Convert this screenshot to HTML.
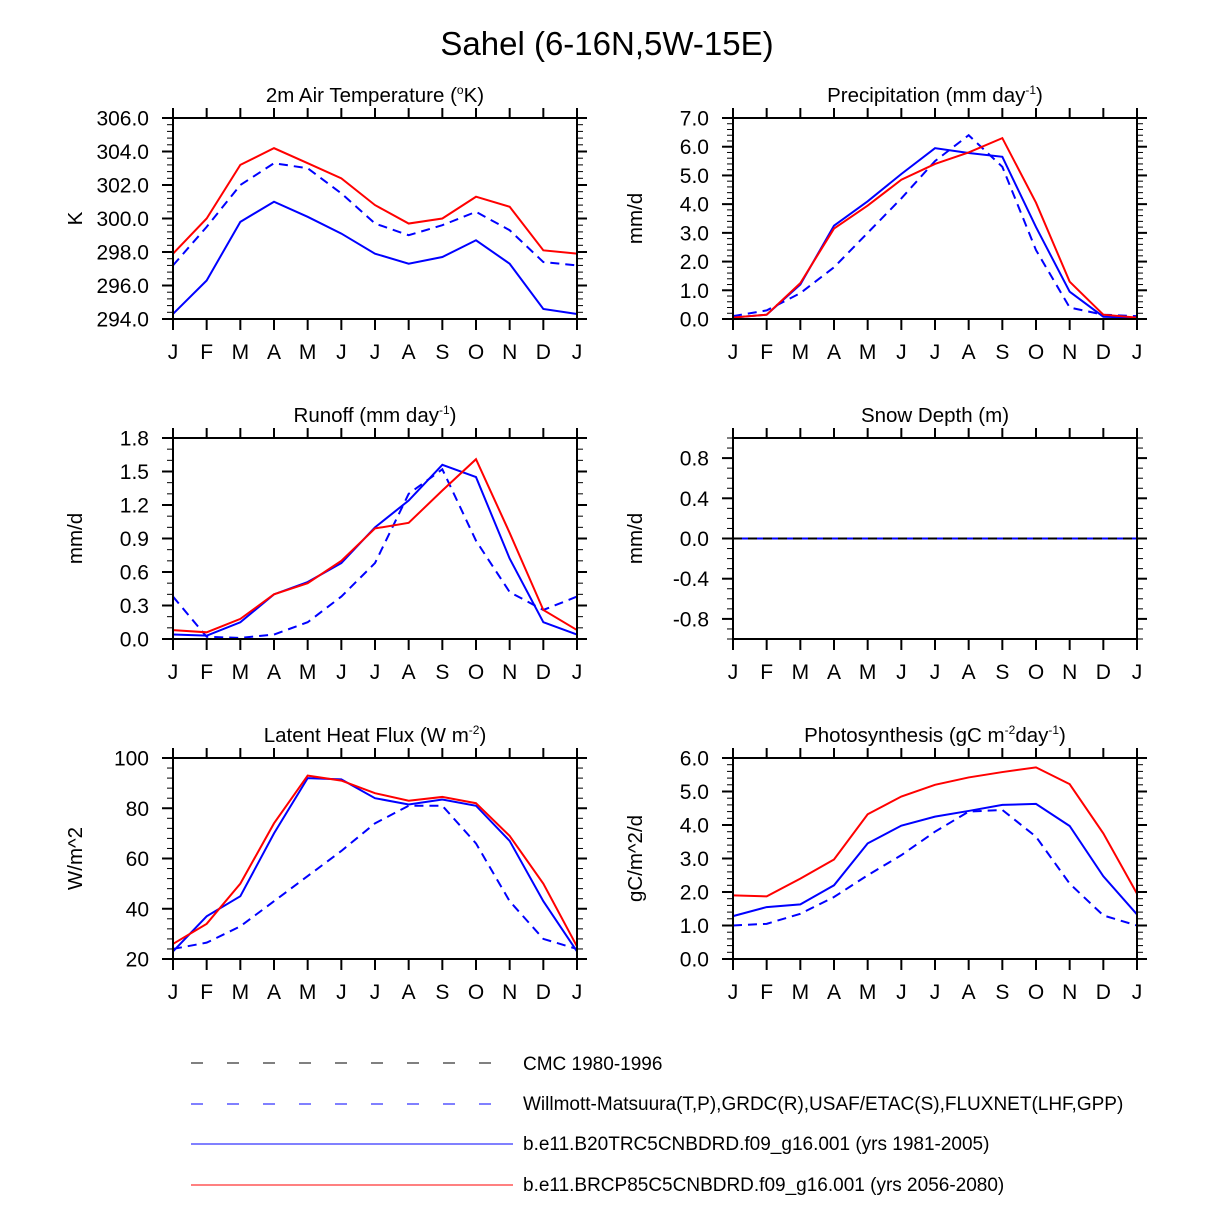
<!DOCTYPE html>
<html><head><meta charset="utf-8"><style>
body{margin:0;background:#fff;}
svg{display:block;font-family:"Liberation Sans",Arial,sans-serif;}
</style></head><body>
<svg id="fig" width="1214" height="1216" viewBox="0 0 1214 1216" xmlns="http://www.w3.org/2000/svg">
<text x="607" y="55" font-size="33" text-anchor="middle">Sahel (6-16N,5W-15E)</text>
<g id="panels"></g>
<g id="legend">
<line x1="191" y1="1063" x2="500" y2="1063" stroke="#000" stroke-width="1" stroke-dasharray="12,24"/>
<text x="523" y="1070" font-size="19">CMC 1980-1996</text>
<line x1="191" y1="1104" x2="500" y2="1104" stroke="#00f" stroke-width="1" stroke-dasharray="12,24"/>
<text x="523" y="1110" font-size="19">Willmott-Matsuura(T,P),GRDC(R),USAF/ETAC(S),FLUXNET(LHF,GPP)</text>
<line x1="191" y1="1144" x2="513" y2="1144" stroke="#00f" stroke-width="1"/>
<text x="523" y="1150" font-size="19">b.e11.B20TRC5CNBDRD.f09_g16.001 (yrs 1981-2005)</text>
<line x1="191" y1="1185" x2="513" y2="1185" stroke="#f00" stroke-width="1"/>
<text x="523" y="1191" font-size="19">b.e11.BRCP85C5CNBDRD.f09_g16.001 (yrs 2056-2080)</text>
</g>
</svg>
<script>
const months = ["J","F","M","A","M","J","J","A","S","O","N","D","J"];
const tempRed  = [297.9,300.0,303.2,304.2,303.3,302.4,300.8,299.7,300.0,301.3,300.7,298.1,297.9];
const tempObs  = [297.2,299.5,302.0,303.3,303.0,301.5,299.7,299.0,299.6,300.4,299.3,297.4,297.2];
const tempBlue = [294.3,296.3,299.8,301.0,300.1,299.1,297.9,297.3,297.7,298.7,297.3,294.6,294.3];
const precRed  = [0.05,0.15,1.25,3.15,3.95,4.85,5.4,5.8,6.3,4.05,1.3,0.15,0.05];
const precObs  = [0.1,0.3,0.9,1.8,3.0,4.2,5.5,6.4,5.3,2.4,0.4,0.15,0.1];
const precBlue = [0.05,0.15,1.2,3.25,4.1,5.05,5.95,5.78,5.65,3.2,0.95,0.08,0.05];
const runRed   = [0.08,0.06,0.18,0.40,0.50,0.70,0.99,1.04,1.33,1.61,0.95,0.26,0.08];
const runObs   = [0.38,0.02,0.01,0.04,0.15,0.38,0.68,1.30,1.52,0.88,0.42,0.26,0.38];
const runBlue  = [0.04,0.03,0.15,0.40,0.51,0.68,1.00,1.24,1.56,1.45,0.72,0.15,0.04];
const snowRed  = [0,0,0,0,0,0,0,0,0,0,0,0,0];
const snowBlue = [0,0,0,0,0,0,0,0,0,0,0,0,0];
const snowObs  = [0,0,0,0,0,0,0,0,0,0,0,0,0];
const snowCmc  = [0,0,0,0,0,0,0,0,0,0,0,0,0];
const lhRed    = [26,34,50,74,93,91,86,83,84.5,82,69,50,25];
const lhObs    = [24,26.5,33,43,53,63,74,81,81,66,43,28,24];
const lhBlue   = [23,37,45,70,92,91.5,84,81.5,83.5,81,67,43,23];
const gppRed   = [1.9,1.87,2.4,2.97,4.32,4.85,5.2,5.42,5.58,5.72,5.22,3.75,1.95];
const gppObs   = [1.0,1.05,1.35,1.85,2.5,3.1,3.8,4.4,4.45,3.65,2.25,1.3,1.0];
const gppBlue  = [1.28,1.55,1.63,2.2,3.45,3.98,4.25,4.42,4.6,4.63,3.97,2.47,1.33];
const tempTicks=["294.0","296.0","298.0","300.0","302.0","304.0","306.0"];
const precTicks=["0.0","1.0","2.0","3.0","4.0","5.0","6.0","7.0"];
const runTicks=["0.0","0.3","0.6","0.9","1.2","1.5","1.8"];
const snowTicks=["-0.8","-0.4","0.0","0.4","0.8"];
const lhTicks=["20","40","60","80","100"];
const gppTicks=["0.0","1.0","2.0","3.0","4.0","5.0","6.0"];

const NS="http://www.w3.org/2000/svg";
const root=document.getElementById('panels');
function el(tag,attrs,parent){const e=document.createElementNS(NS,tag);for(const k in attrs)e.setAttribute(k,attrs[k]);parent.appendChild(e);return e;}

const panels=[
 {name:"air-temperature",x:173,y:118,title:'2m Air Temperature (<tspan font-size="12" dy="-8">o</tspan><tspan dy="8">K)</tspan>',ylab:"K",min:294,max:306,ticks:tempTicks,minor:0.4,series:[[tempObs,"obs"],[tempBlue,"b20tr"],[tempRed,"rcp85"]]},
 {name:"precipitation",x:733,y:118,title:'Precipitation (mm day<tspan font-size="12" dy="-8">-1</tspan><tspan dy="8">)</tspan>',ylab:"mm/d",min:0,max:7,ticks:precTicks,minor:0.2,series:[[precObs,"obs"],[precBlue,"b20tr"],[precRed,"rcp85"]]},
 {name:"runoff",x:173,y:438,title:'Runoff (mm day<tspan font-size="12" dy="-8">-1</tspan><tspan dy="8">)</tspan>',ylab:"mm/d",min:0,max:1.8,ticks:runTicks,minor:0.1,series:[[runObs,"obs"],[runBlue,"b20tr"],[runRed,"rcp85"]]},
 {name:"snow-depth",x:733,y:438,title:'Snow Depth (m)',ylab:"mm/d",min:-1,max:1,ticks:snowTicks,minor:0.1,series:[[snowRed,"rcp85"],[snowBlue,"b20tr"],[snowObs,"obs"],[snowCmc,"cmc"]]},
 {name:"latent-heat-flux",x:173,y:758,title:'Latent Heat Flux (W m<tspan font-size="12" dy="-8">-2</tspan><tspan dy="8">)</tspan>',ylab:"W/m^2",min:20,max:100,ticks:lhTicks,minor:4,series:[[lhObs,"obs"],[lhBlue,"b20tr"],[lhRed,"rcp85"]]},
 {name:"photosynthesis",x:733,y:758,title:'Photosynthesis (gC m<tspan font-size="12" dy="-8">-2</tspan><tspan dy="8">day</tspan><tspan font-size="12" dy="-8">-1</tspan><tspan dy="8">)</tspan>',ylab:"gC/m^2/d",min:0,max:6,ticks:gppTicks,minor:0.2,series:[[gppObs,"obs"],[gppBlue,"b20tr"],[gppRed,"rcp85"]]}
];
const W=404,H=201;
const styles={obs:{c:"#00f",d:"9,6"},b20tr:{c:"#00f",d:""},rcp85:{c:"#f00",d:""},cmc:{c:"#000",d:"9,6"}};

panels.forEach(p=>{
 const g=el('g',{},root);
 
 
 const xs=i=>p.x+i*W/12;
 const ys=v=>p.y+H-(v-p.min)/(p.max-p.min)*H;
 const t=el('text',{x:p.x+W/2,y:p.y-16,'font-size':20.5,'text-anchor':'middle'},g);
 t.innerHTML=p.title;
 
 
 const yl=el('text',{x:0,y:0,'font-size':20.5,'text-anchor':'middle',transform:`translate(${p.x-91},${p.y+H/2}) rotate(-90)`},g);
 yl.textContent=p.ylab;
 
 
 const n=Math.round((p.max-p.min)/p.minor);
 for(let k=0;k<=n;k++){const y=ys(p.min+k*p.minor);
  el('line',{x1:p.x-6,x2:p.x,y1:y,y2:y,stroke:'#000','stroke-width':1},g);
  el('line',{x1:p.x+W,x2:p.x+W+6,y1:y,y2:y,stroke:'#000','stroke-width':1},g);}
 p.ticks.forEach(s=>{const y=ys(parseFloat(s));
  el('line',{x1:p.x-11,x2:p.x,y1:y,y2:y,stroke:'#000','stroke-width':2},g);
  el('line',{x1:p.x+W,x2:p.x+W+10,y1:y,y2:y,stroke:'#000','stroke-width':2},g);
  const tl=el('text',{x:p.x-24,y:y+7.5,'font-size':21,'text-anchor':'end'},g);
  tl.textContent=s;
  
  
 });
 months.forEach((m,i)=>{const x=xs(i);
  el('line',{x1:x,x2:x,y1:p.y-10,y2:p.y,stroke:'#000','stroke-width':2},g);
  el('line',{x1:x,x2:x,y1:p.y+H,y2:p.y+H+11,stroke:'#000','stroke-width':2},g);
  const ml=el('text',{x:x,y:p.y+H+40,'font-size':21,'text-anchor':'middle'},g);
  ml.textContent=m;
  
  
 });
 p.series.forEach(([arr,key])=>{
  const st=styles[key];
  const pl=el('polyline',{points:arr.map((v,i)=>xs(i)+','+ys(v)).join(' '),fill:'none',stroke:st.c,'stroke-width':2},g);
  if(st.d)pl.setAttribute('stroke-dasharray',st.d);
  
  
 });
 const fr=el('rect',{x:p.x,y:p.y,width:W,height:H,fill:'none',stroke:'#000','stroke-width':2},g);
 
 
});
</script>
</body></html>
